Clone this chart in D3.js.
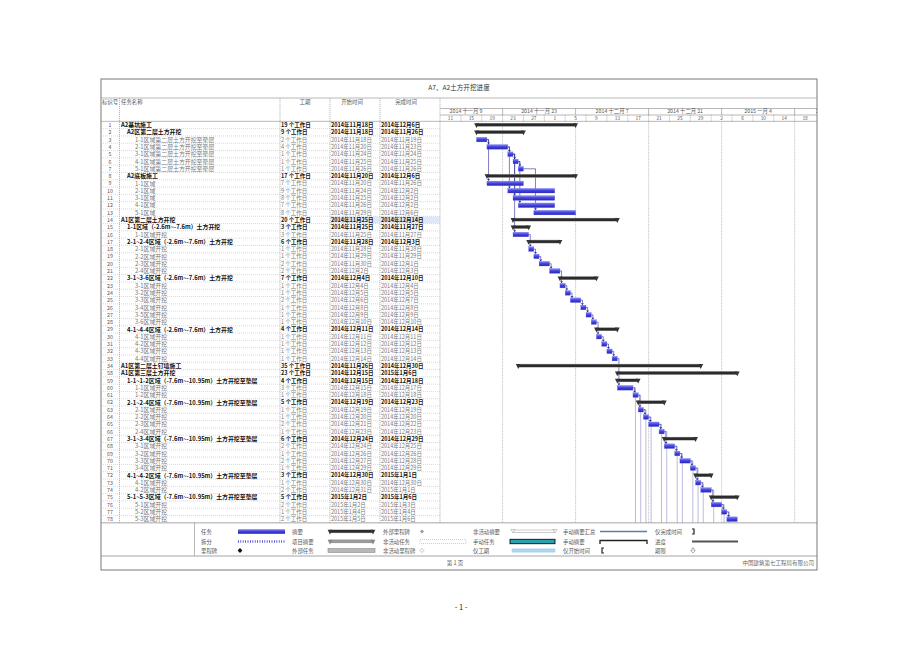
<!DOCTYPE html>
<html><head><meta charset="utf-8">
<script src="https://cdn.jsdelivr.net/npm/d3@7"></script>
<style>
body{margin:0;background:#fff}
svg{display:block}
text{font-family:"Noto Sans CJK SC","Noto Sans",sans-serif}
</style>
</head><body>
<svg id="c" width="920" height="650"></svg>
<script>
// ---------------- DATA ----------------
const chartTitle = "A7、A2土方开挖进度";
const headerLabels = ["标识号", "任务名称", "工期", "开始时间", "完成时间"];
const ids = [1,2,3,4,5,6,7,8,9,10,11,12,13,14,15,16,17,18,19,20,21,22,23,24,25,26,27,28,29,30,31,32,33,34,58,59,60,61,62,63,64,65,66,67,68,69,70,71,72,73,74,75,76,77,78];
const names = [
 "A2基坑施工","A2区第二层土方开挖","1-1区域第二层土方开挖至垫层","2-1区域第二层土方开挖至垫层","3-1区域第二层土方开挖至垫层","4-1区域第二层土方开挖至垫层","5-1区域第二层土方开挖至垫层",
 "A2底板施工","1-1区域","2-1区域","3-1区域","4-1区域","5-1区域",
 "A1区第二层土方开挖","1-1区域（-2.6m~-7.6m）土方开挖","1-1区域开挖",
 "2-1~2-4区域（-2.6m~-7.6m）土方开挖","2-1区域开挖","2-2区域开挖","2-3区域开挖","2-4区域开挖",
 "3-1~3-6区域（-2.6m~-7.6m）土方开挖","3-1区域开挖","3-2区域开挖","3-3区域开挖","3-4区域开挖","3-5区域开挖","3-6区域开挖",
 "4-1~4-4区域（-2.6m~-7.6m）土方开挖","4-1区域开挖","4-2区域开挖","4-3区域开挖","4-4区域开挖",
 "A1区第二层土钉墙施工","A1区第三层土方开挖",
 "1-1~1-2区域（-7.6m~-10.95m）土方开挖至垫层","1-1区域开挖","1-2区域开挖",
 "2-1~2-4区域（-7.6m~-10.95m）土方开挖至垫层","2-1区域开挖","2-2区域开挖","2-3区域开挖","2-4区域开挖",
 "3-1~3-4区域（-7.6m~-10.95m）土方开挖至垫层","3-1区域开挖","3-2区域开挖","3-3区域开挖","3-4区域开挖",
 "4-1~4-2区域（-7.6m~-10.95m）土方开挖至垫层","4-1区域开挖","4-2区域开挖",
 "5-1~5-3区域（-7.6m~-10.95m）土方开挖至垫层","5-1区域开挖","5-2区域开挖","5-3区域开挖"
];
const levels = [0,1,2,2,2,2,2,1,2,2,2,2,2,0,1,2,1,2,2,2,2,1,2,2,2,2,2,2,1,2,2,2,2,0,0,1,2,2,1,2,2,2,2,1,2,2,2,2,1,2,2,1,2,2,2];
const summaryFlags = [1,1,0,0,0,0,0,1,0,0,0,0,0,1,1,0,1,0,0,0,0,1,0,0,0,0,0,0,1,0,0,0,0,1,1,1,0,0,1,0,0,0,0,1,0,0,0,0,1,0,0,1,0,0,0];
const durations = [19,9,2,4,1,1,1,17,7,9,8,7,8,20,3,3,6,1,1,2,2,7,1,1,2,1,1,1,4,1,1,1,1,35,23,4,3,1,5,1,1,2,1,6,2,1,2,1,3,1,2,5,2,1,2];
const starts = [
 "2014-11-18","2014-11-18","2014-11-18","2014-11-20","2014-11-24","2014-11-25","2014-11-26",
 "2014-11-20","2014-11-20","2014-11-24","2014-11-25","2014-11-26","2014-11-29",
 "2014-11-25","2014-11-25","2014-11-25",
 "2014-11-28","2014-11-28","2014-11-29","2014-11-30","2014-12-02",
 "2014-12-04","2014-12-04","2014-12-05","2014-12-06","2014-12-08","2014-12-09","2014-12-10",
 "2014-12-11","2014-12-11","2014-12-12","2014-12-13","2014-12-14",
 "2014-11-26","2014-12-15",
 "2014-12-15","2014-12-15","2014-12-18",
 "2014-12-19","2014-12-19","2014-12-20","2014-12-21","2014-12-23",
 "2014-12-24","2014-12-24","2014-12-26","2014-12-27","2014-12-29",
 "2014-12-30","2014-12-30","2014-12-31",
 "2015-01-02","2015-01-02","2015-01-04","2015-01-05"
];
const finishes = [
 "2014-12-06","2014-11-26","2014-11-19","2014-11-23","2014-11-24","2014-11-25","2014-11-26",
 "2014-12-06","2014-11-26","2014-12-02","2014-12-02","2014-12-02","2014-12-06",
 "2014-12-14","2014-11-27","2014-11-27",
 "2014-12-03","2014-11-28","2014-11-29","2014-12-01","2014-12-03",
 "2014-12-10","2014-12-04","2014-12-05","2014-12-07","2014-12-08","2014-12-09","2014-12-10",
 "2014-12-14","2014-12-11","2014-12-12","2014-12-13","2014-12-14",
 "2014-12-30","2015-01-06",
 "2014-12-18","2014-12-17","2014-12-18",
 "2014-12-23","2014-12-19","2014-12-20","2014-12-22","2014-12-23",
 "2014-12-29","2014-12-25","2014-12-26","2014-12-28","2014-12-29",
 "2015-01-01","2014-12-30","2015-01-01",
 "2015-01-06","2015-01-03","2015-01-04","2015-01-06"
];
const links = [[3,4],[4,5],[5,6],[6,7],[3,9],[4,10],[5,11],[5,16],[6,12],[7,13],
 [16,18],[18,19],[19,20],[20,21],[21,23],[23,24],[24,25],[25,26],[26,27],[27,28],[28,30],[30,31],[31,32],[32,33],[33,60],
 [60,61],[61,63],[63,64],[64,65],[65,66],[66,68],[68,69],[69,70],[70,71],[71,73],[73,74],[74,76],[76,77],[77,78]];
const offPageLinks = [60,61,63,64,65,66,68,69,70,71,73,74,76,77];
const selectedRow = 14;
const topTierLabels = ["2014 十一月 9","2014 十一月 23","2014 十二月 7","2014 十二月 21","2015 一月 4","2015 一月 18"];
const topTierStarts = ["2014-11-09","2014-11-23","2014-12-07","2014-12-21","2015-01-04","2015-01-18"];
const bottomTierLabels = ["11","15","19","23","27","1","5","9","13","17","21","25","29","2","6","10","14","18"];
const bottomTierStarts = ["2014-11-11","2014-11-15","2014-11-19","2014-11-23","2014-11-27","2014-12-01","2014-12-05","2014-12-09","2014-12-13","2014-12-17","2014-12-21","2014-12-25","2014-12-29","2015-01-02","2015-01-06","2015-01-10","2015-01-14","2015-01-18"];
const legendCol1 = ["任务","拆分","里程碑"];
const legendCol2 = ["摘要","项目摘要","外部任务"];
const legendCol3 = ["外部里程碑","非活动任务","非活动里程碑"];
const legendCol4 = ["非活动摘要","手动任务","仅工期"];
const legendCol5 = ["手动摘要汇总","手动摘要","仅开始时间"];
const legendCol6 = ["仅完成时间","进度","期限"];
const footerPage = "第 1 页";
const footerCompany = "中国建筑第七工程局有限公司";
const pageNumber = "- 1 -";

// ---------------- LAYOUT ----------------
const svg = d3.select("#c");
const parse = d3.timeParse("%Y-%m-%d");
const L = 101, R = 817, T = 79, B = 570;
const titleBot = 98, hdrBot = 121.35, rowH = 7.3;
const tableBot = hdrBot + ids.length * rowH;
const legBot = 556;
const colX = [L, 119.5, 280, 330, 380, 440];
const gL = 440;
const lineCol = "#8a8a8a";

const tasks = ids.map((id, i) => ({
  id, name: names[i], level: levels[i], summary: !!summaryFlags[i], dur: durations[i],
  start: parse(starts[i]), finish: parse(finishes[i])
}));
const byId = new Map(tasks.map(t => [t.id, t]));

const x = d3.scaleTime().domain([parse("2014-11-11"), parse("2015-01-22")]).range([440, 815.5]);
const y = d3.scaleBand().domain(ids).range([hdrBot, tableBot]);
const cy = id => y(id) + y.bandwidth() / 2;
const xEnd = t => x(d3.timeDay.offset(t.finish, 1));
const fmtDate = d => `${d.getFullYear()}年${d.getMonth() + 1}月${d.getDate()}日`;

const defs = svg.append("defs");
const g1 = defs.append("linearGradient").attr("id", "blueBar").attr("x1", 0).attr("y1", 0).attr("x2", 0).attr("y2", 1);
g1.append("stop").attr("offset", "0%").attr("stop-color", "#8c8cf2");
g1.append("stop").attr("offset", "45%").attr("stop-color", "#4444e0");
g1.append("stop").attr("offset", "100%").attr("stop-color", "#2626b8");
defs.append("clipPath").attr("id", "gclip").append("rect").attr("x", gL).attr("y", hdrBot).attr("width", R - gL).attr("height", tableBot - hdrBot);
defs.append("clipPath").attr("id", "hclip").append("rect").attr("x", gL).attr("y", 100).attr("width", R - gL).attr("height", 25);

// selection highlight row 14
const sel = byId.get(selectedRow);
[3, 4].forEach(c => svg.append("rect").attr("x", colX[c] + 0.5).attr("y", y(selectedRow) + 0.3)
  .attr("width", colX[c + 1] - colX[c] - 1).attr("height", rowH - 0.6).attr("fill", "#dfe7f7"));

// ---------------- FRAME ----------------
svg.append("rect").attr("x", L).attr("y", T).attr("width", R - L).attr("height", B - T)
  .attr("fill", "none").attr("stroke", "#6a6a6a").attr("stroke-width", 0.9);
const hline = (x1, x2, yy, dash, col) => svg.append("line").attr("x1", x1).attr("x2", x2).attr("y1", yy).attr("y2", yy)
  .attr("stroke", col || lineCol).attr("stroke-width", 0.6).attr("stroke-dasharray", dash || null);
const vline = (xx, y1, y2, dash, col) => svg.append("line").attr("x1", xx).attr("x2", xx).attr("y1", y1).attr("y2", y2)
  .attr("stroke", col || lineCol).attr("stroke-width", 0.6).attr("stroke-dasharray", dash || null);

hline(L, R, titleBot);
hline(L, R, hdrBot);
hline(L, R, tableBot, null, "#6a6a6a");
hline(L, R, legBot, null, "#6a6a6a");
colX.slice(1).forEach(cx => vline(cx, titleBot, tableBot, "1.2,0.8"));
vline(194.5, tableBot, legBot);

svg.append("text").attr("x", (L + R) / 2).attr("y", 89.5).attr("text-anchor", "middle")
  .attr("font-size", 6.6).attr("fill", "#333").text(chartTitle);

// header labels
const hdrPos = [[110, "middle"], [121, "start"], [305, "middle"], [352, "middle"], [406, "middle"]];
headerLabels.forEach((lab, i) => svg.append("text").attr("x", hdrPos[i][0]).attr("y", 103.5)
  .attr("text-anchor", hdrPos[i][1]).attr("font-size", 5.4).attr("fill", "#555").text(lab));

// ---------------- TIMESCALE ----------------
const tierTop = 108.5, tierMid = 115;
hline(gL, R, tierTop);
hline(gL, R, tierMid);
const hdr = svg.append("g").attr("clip-path", "url(#hclip)");
topTierStarts.forEach((s, i) => {
  const d0 = parse(s), d1 = d3.timeDay.offset(d0, 14);
  const x0 = x(d0), x1 = x(d1);
  if (x0 > gL && x0 < R) vline(x0, tierTop, tierMid);
  hdr.append("text").attr("x", (x0 + x1) / 2).attr("y", tierMid - 1.6).attr("text-anchor", "middle")
    .attr("font-size", 5.3).attr("fill", "#555").text(topTierLabels[i]);
});
bottomTierStarts.forEach((s, i) => {
  const d0 = parse(s), d1 = d3.timeDay.offset(d0, 4);
  const x0 = x(d0), x1 = x(d1);
  if (x0 > gL + 1) vline(x0, tierMid, hdrBot, "1,0.8");
  hdr.append("text").attr("x", (x0 + x1) / 2).attr("y", hdrBot - 1.3).attr("text-anchor", "middle")
    .attr("font-size", 4.8).attr("fill", "#555").text(bottomTierLabels[i]);
});
// major gridlines through the rows
topTierStarts.forEach(s => {
  const xx = x(parse(s));
  if (xx > gL + 1 && xx < R) vline(xx, hdrBot, tableBot, "1,0.8", "#9a9a9a");
});

// ---------------- TABLE ----------------
const rows = svg.append("g");
tasks.forEach((t, i) => {
  const top = y(t.id), c = cy(t.id);
  if (i > 0) rows.append("line").attr("x1", L).attr("x2", gL).attr("y1", top).attr("y2", top)
    .attr("stroke", "#b4b4b4").attr("stroke-width", 0.5).attr("stroke-dasharray", "1,1");
  const col = t.summary ? "#111" : "#777";
  const fw = t.summary ? 700 : 400;
  rows.append("text").attr("x", 110).attr("y", c + 2).attr("text-anchor", "middle")
    .attr("font-size", 5.3).attr("fill", "#555").text(t.id);
  rows.append("text").attr("x", 121 + [0, 6, 14][t.level]).attr("y", c + 2.1)
    .attr("font-size", 5.9).attr("font-weight", fw).attr("fill", col).text(t.name);
  rows.append("text").attr("x", 281).attr("y", c + 2).attr("font-size", 5.5).attr("font-weight", fw)
    .attr("fill", col).text(`${t.dur} 个工作日`);
  rows.append("text").attr("x", 331).attr("y", c + 2).attr("font-size", 5.5).attr("font-weight", fw)
    .attr("fill", col).text(fmtDate(t.start));
  rows.append("text").attr("x", 381).attr("y", c + 2).attr("font-size", 5.5).attr("font-weight", fw)
    .attr("fill", col).text(fmtDate(t.finish));
});

// ---------------- GANTT ----------------
const gantt = svg.append("g").attr("clip-path", "url(#gclip)");
// off-page link lines
offPageLinks.forEach(id => {
  const t = byId.get(id);
  const ex = xEnd(t) + 2.5;
  gantt.append("path").attr("d", `M${xEnd(t)},${cy(id)}H${ex}V${tableBot}`)
    .attr("fill", "none").attr("stroke", "#8f8fc8").attr("stroke-width", 0.6);
});
// links
links.forEach(([a, b]) => {
  const p = byId.get(a), s = byId.get(b);
  const px = xEnd(p), py = cy(a);
  const vx = Math.max(px, x(s.start)) + 1.6;
  const sy = cy(b) - (s.summary ? 1.8 : 2.3);
  gantt.append("path").attr("d", `M${px},${py}H${vx}V${sy - 1.6}`)
    .attr("fill", "none").attr("stroke", "#2a2a9c").attr("stroke-width", 0.6);
  gantt.append("path").attr("d", `M${vx - 1.4},${sy - 2}L${vx + 1.4},${sy - 2}L${vx},${sy}Z`).attr("fill", "#2a2a9c");
});
// bars
function summaryBar(g, x0, x1, c, fill, capFill) {
  g.append("rect").attr("x", x0).attr("y", c - 2).attr("width", Math.max(0, x1 - x0)).attr("height", 3.6)
    .attr("fill", "#9a9a9a");
  g.append("rect").attr("x", x0).attr("y", c - 1.5).attr("width", Math.max(0, x1 - x0)).attr("height", 2.6)
    .attr("fill", fill);
  [x0, x1].forEach(ex => g.append("path")
    .attr("d", `M${ex - 2.4},${c - 1.8}L${ex + 2.4},${c - 1.8}L${ex},${c + 3}Z`).attr("fill", capFill));
}
tasks.forEach(t => {
  const c = cy(t.id), x0 = x(t.start), x1 = xEnd(t);
  if (t.summary) {
    summaryBar(gantt, x0, x1, c, "#2b2b2b", "#333");
  } else {
    gantt.append("rect").attr("x", x0).attr("y", c - 2.3).attr("width", x1 - x0).attr("height", 4.6)
      .attr("fill", "url(#blueBar)").attr("stroke", "#5a5ae6").attr("stroke-width", 0.3);
  }
});

// ---------------- LEGEND ----------------
const legRowsY = [531.5, 541.5, 550.5];
const legLabelX = [201, 292, 383, 473, 563, 655];
const legCols = [legendCol1, legendCol2, legendCol3, legendCol4, legendCol5, legendCol6];
const leg = svg.append("g");
legCols.forEach((col, ci) => col.forEach((lab, ri) => leg.append("text").attr("x", legLabelX[ci]).attr("y", legRowsY[ri] + 2)
  .attr("font-size", 5.4).attr("fill", "#555").text(lab)));
const ly = legRowsY;
// col1
leg.append("rect").attr("x", 238).attr("y", ly[0] - 2.3).attr("width", 47).attr("height", 4.6).attr("fill", "url(#blueBar)");
leg.append("line").attr("x1", 238).attr("x2", 285).attr("y1", ly[1]).attr("y2", ly[1])
  .attr("stroke", "#3a3ad0").attr("stroke-width", 2.4).attr("stroke-dasharray", "0.8,1.6");
leg.append("path").attr("d", `M240,${ly[2] - 2.4}L242.4,${ly[2]}L240,${ly[2] + 2.4}L237.6,${ly[2]}Z`).attr("fill", "#111");
// col2
summaryBar(leg, 330, 373, ly[0], "#2b2b2b", "#333");
summaryBar(leg, 330, 373, ly[1], "#9a9a9a", "#888");
leg.append("rect").attr("x", 328).attr("y", ly[2] - 2).attr("width", 47).attr("height", 4).attr("fill", "#b8b8b8").attr("stroke", "#8a8a8a").attr("stroke-width", 0.6);
// col3
leg.append("path").attr("d", `M422,${ly[0] - 2}L424,${ly[0]}L422,${ly[0] + 2}L420,${ly[0]}Z`).attr("fill", "#999");
leg.append("rect").attr("x", 420).attr("y", ly[1] - 2).attr("width", 46).attr("height", 4).attr("fill", "none")
  .attr("stroke", "#aaa").attr("stroke-width", 0.6).attr("stroke-dasharray", "1,1");
leg.append("path").attr("d", `M422,${ly[2] - 2}L424,${ly[2]}L422,${ly[2] + 2}L420,${ly[2]}Z`).attr("fill", "none").attr("stroke", "#999").attr("stroke-width", 0.6);
// col4
leg.append("path").attr("d", `M513,${ly[0] - 1.5}H555M513,${ly[0] + 1}H555M511,${ly[0] - 2}L515,${ly[0] - 2}L513,${ly[0] + 1.5}ZM553,${ly[0] - 2}L557,${ly[0] - 2}L555,${ly[0] + 1.5}Z`)
  .attr("fill", "none").attr("stroke", "#aaa").attr("stroke-width", 0.6);
leg.append("rect").attr("x", 510).attr("y", ly[1] - 2.2).attr("width", 45).attr("height", 4.4).attr("fill", "#2aa0b0").attr("stroke", "#111").attr("stroke-width", 0.9);
leg.append("rect").attr("x", 512).attr("y", ly[2] - 1.6).attr("width", 43).attr("height", 3.2).attr("fill", "#a9d8f0").attr("stroke", "#8cc4e4").attr("stroke-width", 0.4);
// col5
leg.append("line").attr("x1", 600).attr("x2", 647).attr("y1", ly[0]).attr("y2", ly[0]).attr("stroke", "#5a7ea6").attr("stroke-width", 1.4);
leg.append("path").attr("d", `M600,${ly[1] + 2.5}V${ly[1] - 1}H647V${ly[1] + 2.5}`).attr("fill", "none").attr("stroke", "#222").attr("stroke-width", 1.3);
leg.append("path").attr("d", `M604,${ly[2] - 2.5}H602V${ly[2] + 2.5}H604`).attr("fill", "none").attr("stroke", "#222").attr("stroke-width", 1.2);
// col6
leg.append("path").attr("d", `M692,${ly[0] - 2.5}H694V${ly[0] + 2.5}H692`).attr("fill", "none").attr("stroke", "#222").attr("stroke-width", 1.2);
leg.append("line").attr("x1", 692).attr("x2", 738).attr("y1", ly[1]).attr("y2", ly[1]).attr("stroke", "#555").attr("stroke-width", 1.8);
leg.append("path").attr("d", `M692,${ly[2] - 2.5}H694V${ly[2]}H695.3L693,${ly[2] + 2.5}L690.7,${ly[2]}H692Z`).attr("fill", "none").attr("stroke", "#6a8a6a").attr("stroke-width", 0.6);

// ---------------- FOOTER ----------------
svg.append("text").attr("x", 455).attr("y", 565).attr("text-anchor", "middle").attr("font-size", 5.5).attr("fill", "#555").text(footerPage);
svg.append("text").attr("x", 814).attr("y", 565).attr("text-anchor", "end").attr("font-size", 5.5).attr("fill", "#666").text(footerCompany);
svg.append("text").attr("x", 461).attr("y", 610).attr("text-anchor", "middle").attr("font-size", 7.5).attr("fill", "#222").text(pageNumber);
</script>
</body></html>
